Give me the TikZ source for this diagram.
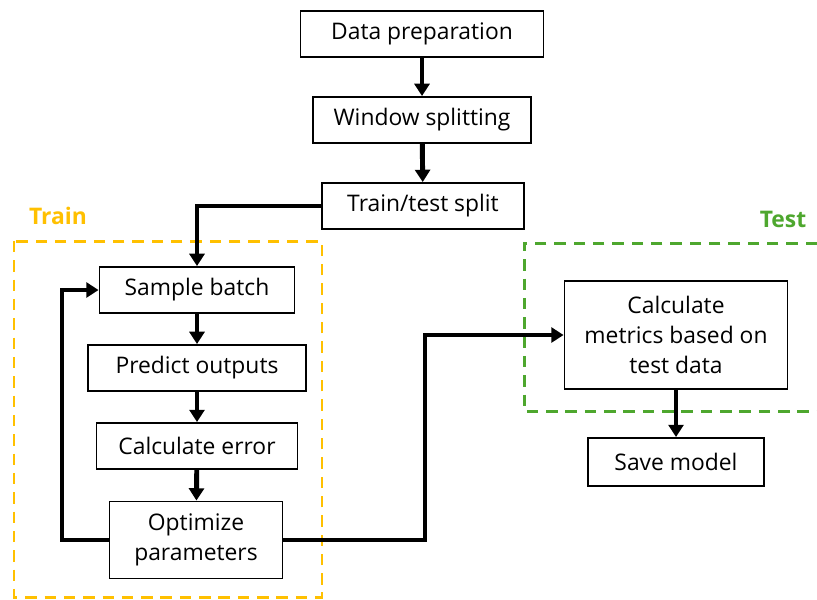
\documentclass[tikz,border=0pt]{standalone}
\usepackage{fontspec}
\setmainfont{Open Sans}
\usetikzlibrary{positioning,calc,arrows.meta}
\definecolor{trainyellow}{HTML}{FFC000}
\definecolor{testgreen}{HTML}{4EA72E}

\begin{document}
\begin{tikzpicture}[x=0.02cm, y=-0.02cm,
  stage/.style={draw=black, line width=1.1pt, fill=white,
                minimum height=0.92cm, inner sep=0pt,
                align=center, font=\fontsize{13}{17}\selectfont},
  flow/.style={line width=2.8pt, -{Triangle[length=7pt,width=8.5pt]}},
  phase/.style={line width=1.7pt, dash pattern=on 6.5pt off 4.5pt},
  phaselabel/.style={font=\fontsize{13}{15}\selectfont\bfseries},
]
\useasboundingbox (0,0) rectangle (817,599);

% phase frames
\draw[phase, trainyellow] (14,241) rectangle (322,597);
\draw[phase, testgreen] (817,243) -- (524,243) -- (524,411) -- (817,411);
\node[phaselabel, text=trainyellow] (trainlbl) at (58,216) {Train};
\node[phaselabel, text=testgreen] (testlbl) at (783,219) {Test};

% preprocessing chain
\node[stage, minimum width=4.86cm] (prep) at (422,34) {Data preparation};
\node[stage, minimum width=4.36cm] (window) at (422,120) {Window splitting};
\node[stage, minimum width=4.04cm] (split) at (423,206) {Train/test split};

% training loop
\node[stage, minimum width=3.9cm] (sample) at (197,290) {Sample batch};
\node[stage, minimum width=4.36cm] (predict) at (197,368) {Predict outputs};
\node[stage, minimum width=4.02cm] (error) at (197,446) {Calculate error};
\node[stage, minimum width=3.46cm, minimum height=1.54cm] (optim) at (196,540)
  {Optimize\\parameters};

% testing
\node[stage, minimum width=4.46cm, minimum height=2.16cm] (metrics) at (676,335)
  {Calculate\\metrics based on\\test data};
\node[stage, minimum width=3.52cm, minimum height=0.96cm] (save) at (676,462) {Save model};

\coordinate (loop) at (62,540);
\coordinate (bend) at (425,335);

\draw[flow] (prep) -- (window);
\draw[flow] (window) -- (split);
\draw[flow] (split.west) -| (sample.north);
\draw[flow] (sample) -- (predict);
\draw[flow] (predict) -- (error);
\draw[flow] (error) -- (optim);
\draw[flow] (optim.west) -- (loop) |- (sample.west);
\draw[flow] (optim.east) -| (bend) -- (metrics.west);
\draw[flow] (metrics) -- (save);

\end{tikzpicture}
\end{document}
